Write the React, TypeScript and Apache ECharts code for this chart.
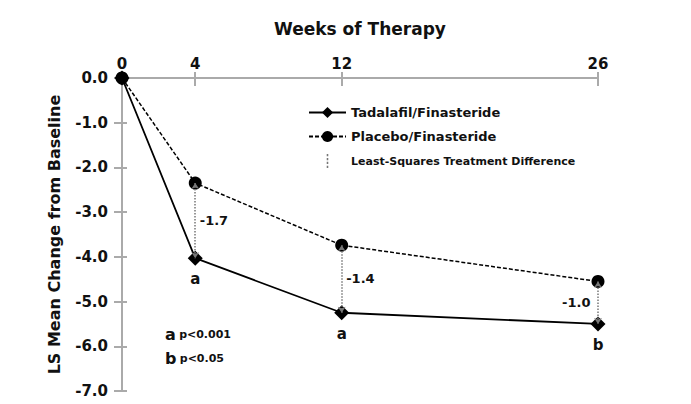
import React, { useEffect, useRef } from "react";
import * as echarts from "echarts";

const weeks = [0, 4, 12, 26];
const tadalafil = [0, -4.03, -5.25, -5.5];
const placebo = [0, -2.35, -3.74, -4.55];
const diffLabels = ["", "-1.7", "-1.4", "-1.0"];
const sigLabels = ["", "a", "a", "b"];
const xTickValues = [0, 4, 12, 26];
const footnotes = [
  { key: "a", text: "p<0.001" },
  { key: "b", text: "p<0.05" },
];

const FONT = "DejaVu Sans";
const AXIS_COLOR = "#aaaaaa";
const TEXT = "#111111";

export default function App() {
  const ref = useRef<HTMLDivElement>(null);
  useEffect(() => {
    if (!ref.current) return;
    const chart = echarts.init(ref.current, null, { renderer: "svg" });
    const diffLines = weeks
      .map((w, i) => ({ w, i }))
      .filter((d) => d.i > 0)
      .map((d) => [
        { coord: [d.w, placebo[d.i]] },
        { coord: [d.w, tadalafil[d.i]] },
      ]);
    const diffLabelData = weeks
      .map((w, i) => ({ w, i }))
      .filter((d) => d.i > 0)
      .map((d) => ({
        value: [d.w, (placebo[d.i] + tadalafil[d.i]) / 2],
        label: {
          show: true,
          position: d.i === weeks.length - 1 ? "left" : "right",
          distance: d.i === weeks.length - 1 ? 7 : 4,
          formatter: diffLabels[d.i],
          color: TEXT,
          opacity: 1,
          fontFamily: FONT,
          fontWeight: "bold",
          fontSize: 13,
        },
      }));
    const option: any = {
      animation: false,
      backgroundColor: "#ffffff",
      textStyle: { fontFamily: FONT, fontWeight: "bold", color: TEXT },
      grid: { left: 122, right: 93, top: 78, bottom: 13, containLabel: false },
      legend: {
        orient: "vertical",
        left: 303,
        top: 101,
        itemWidth: 37,
        itemHeight: 14,
        itemGap: 11,
        textStyle: { fontFamily: FONT, fontWeight: "bold", fontSize: 13, color: TEXT },
        data: [
          { name: "Tadalafil/Finasteride" },
          { name: "Placebo/Finasteride" },
          {
            name: "Least-Squares Treatment Difference",
            icon: "path://M0,0h2v3h-2z M0,5h2v3h-2z M0,10h2v3h-2z M0,15h2v3h-2z",
            textStyle: { fontSize: 11 },
          },
        ],
      },
      xAxis: [
        {
          type: "value",
          position: "top",
          min: 0,
          max: 26,
          name: "Weeks of Therapy",
          nameLocation: "middle",
          nameGap: 41,
          nameTextStyle: { fontFamily: FONT, fontWeight: "bold", fontSize: 17, color: TEXT },
          axisLine: { show: true, lineStyle: { color: AXIS_COLOR, width: 2 } },
          axisTick: {
            show: true,
            customValues: xTickValues.slice(1),
            length: 6,
            lineStyle: { color: AXIS_COLOR, width: 2 },
          },
          axisLabel: {
            show: true,
            customValues: xTickValues,
            margin: 7,
            fontFamily: FONT,
            fontWeight: "bold",
            fontSize: 15,
            color: TEXT,
          },
          splitLine: { show: false },
        },
        {
          type: "value",
          position: "top",
          min: 0,
          max: 26,
          axisLine: { show: false },
          axisTick: {
            show: true,
            inside: true,
            customValues: xTickValues.slice(1),
            length: 8,
            lineStyle: { color: AXIS_COLOR, width: 2 },
          },
          axisLabel: { show: false },
          splitLine: { show: false },
        },
      ],
      yAxis: [
        {
          type: "value",
          min: -7,
          max: 0,
          interval: 1,
          name: "LS Mean Change from Baseline",
          nameLocation: "middle",
          nameGap: 60,
          nameRotate: 90,
          nameTextStyle: { fontFamily: FONT, fontWeight: "bold", fontSize: 16, color: TEXT },
          axisLine: { show: true, lineStyle: { color: AXIS_COLOR, width: 2 } },
          axisTick: { show: true, length: 8, lineStyle: { color: AXIS_COLOR, width: 2 } },
          axisLabel: {
            margin: 14,
            formatter: (v: number) => v.toFixed(1),
            fontFamily: FONT,
            fontWeight: "bold",
            fontSize: 15,
            color: TEXT,
          },
          splitLine: { show: false },
        },
        {
          type: "value",
          min: -7,
          max: 0,
          interval: 1,
          position: "left",
          axisLine: { show: false },
          axisTick: { show: true, inside: true, length: 5, lineStyle: { color: AXIS_COLOR, width: 2 } },
          axisLabel: { show: false },
          splitLine: { show: false },
        },
      ],
      series: [
        {
          name: "Least-Squares Treatment Difference",
          type: "line",
          data: [],
          color: "#777777",
          markLine: {
            silent: true,
            symbol: ["arrow", "arrow"],
            symbolSize: 6,
            label: { show: false },
            lineStyle: { color: "#777777", type: "dotted", width: 1.5 },
            data: diffLines,
          },
        },
        {
          name: "diffLabels",
          type: "scatter",
          symbolSize: 1,
          itemStyle: { opacity: 0 },
          silent: true,
          data: diffLabelData,
        },
        {
          name: "Placebo/Finasteride",
          type: "line",
          data: weeks.map((w, i) => [w, placebo[i]]),
          color: "#000000",
          symbol: "circle",
          symbolSize: 13,
          lineStyle: { color: "#000000", width: 1.5, type: [4, 2] },
          itemStyle: { color: "#000000" },
        },
        {
          name: "Tadalafil/Finasteride",
          type: "line",
          data: weeks.map((w, i) => [w, tadalafil[i]]),
          color: "#000000",
          symbol: "diamond",
          symbolSize: 15,
          lineStyle: { color: "#000000", width: 1.8, type: "solid" },
          itemStyle: { color: "#000000" },
          label: {
            show: true,
            position: "bottom",
            distance: 6,
            formatter: (p: any) => sigLabels[p.dataIndex],
            fontFamily: FONT,
            fontWeight: "bold",
            fontSize: 15,
            color: TEXT,
          },
        },
      ],
      graphic: footnotes.map((f, i) => ({
        type: "text",
        left: 165,
        top: 326 + i * 24,
        style: {
          text: `{k|${f.key}} {t|${f.text}}`,
          rich: {
            k: { fontFamily: FONT, fontWeight: "bold", fontSize: 16, fill: TEXT },
            t: { fontFamily: FONT, fontWeight: "bold", fontSize: 11, fill: TEXT },
          },
        },
      })),
    };
    chart.setOption(option);
    return () => chart.dispose();
  }, []);
  return (
    <div
      ref={ref}
      style={{ position: "fixed", left: 0, top: 0, width: 691, height: 404, background: "#fff" }}
    />
  );
}
